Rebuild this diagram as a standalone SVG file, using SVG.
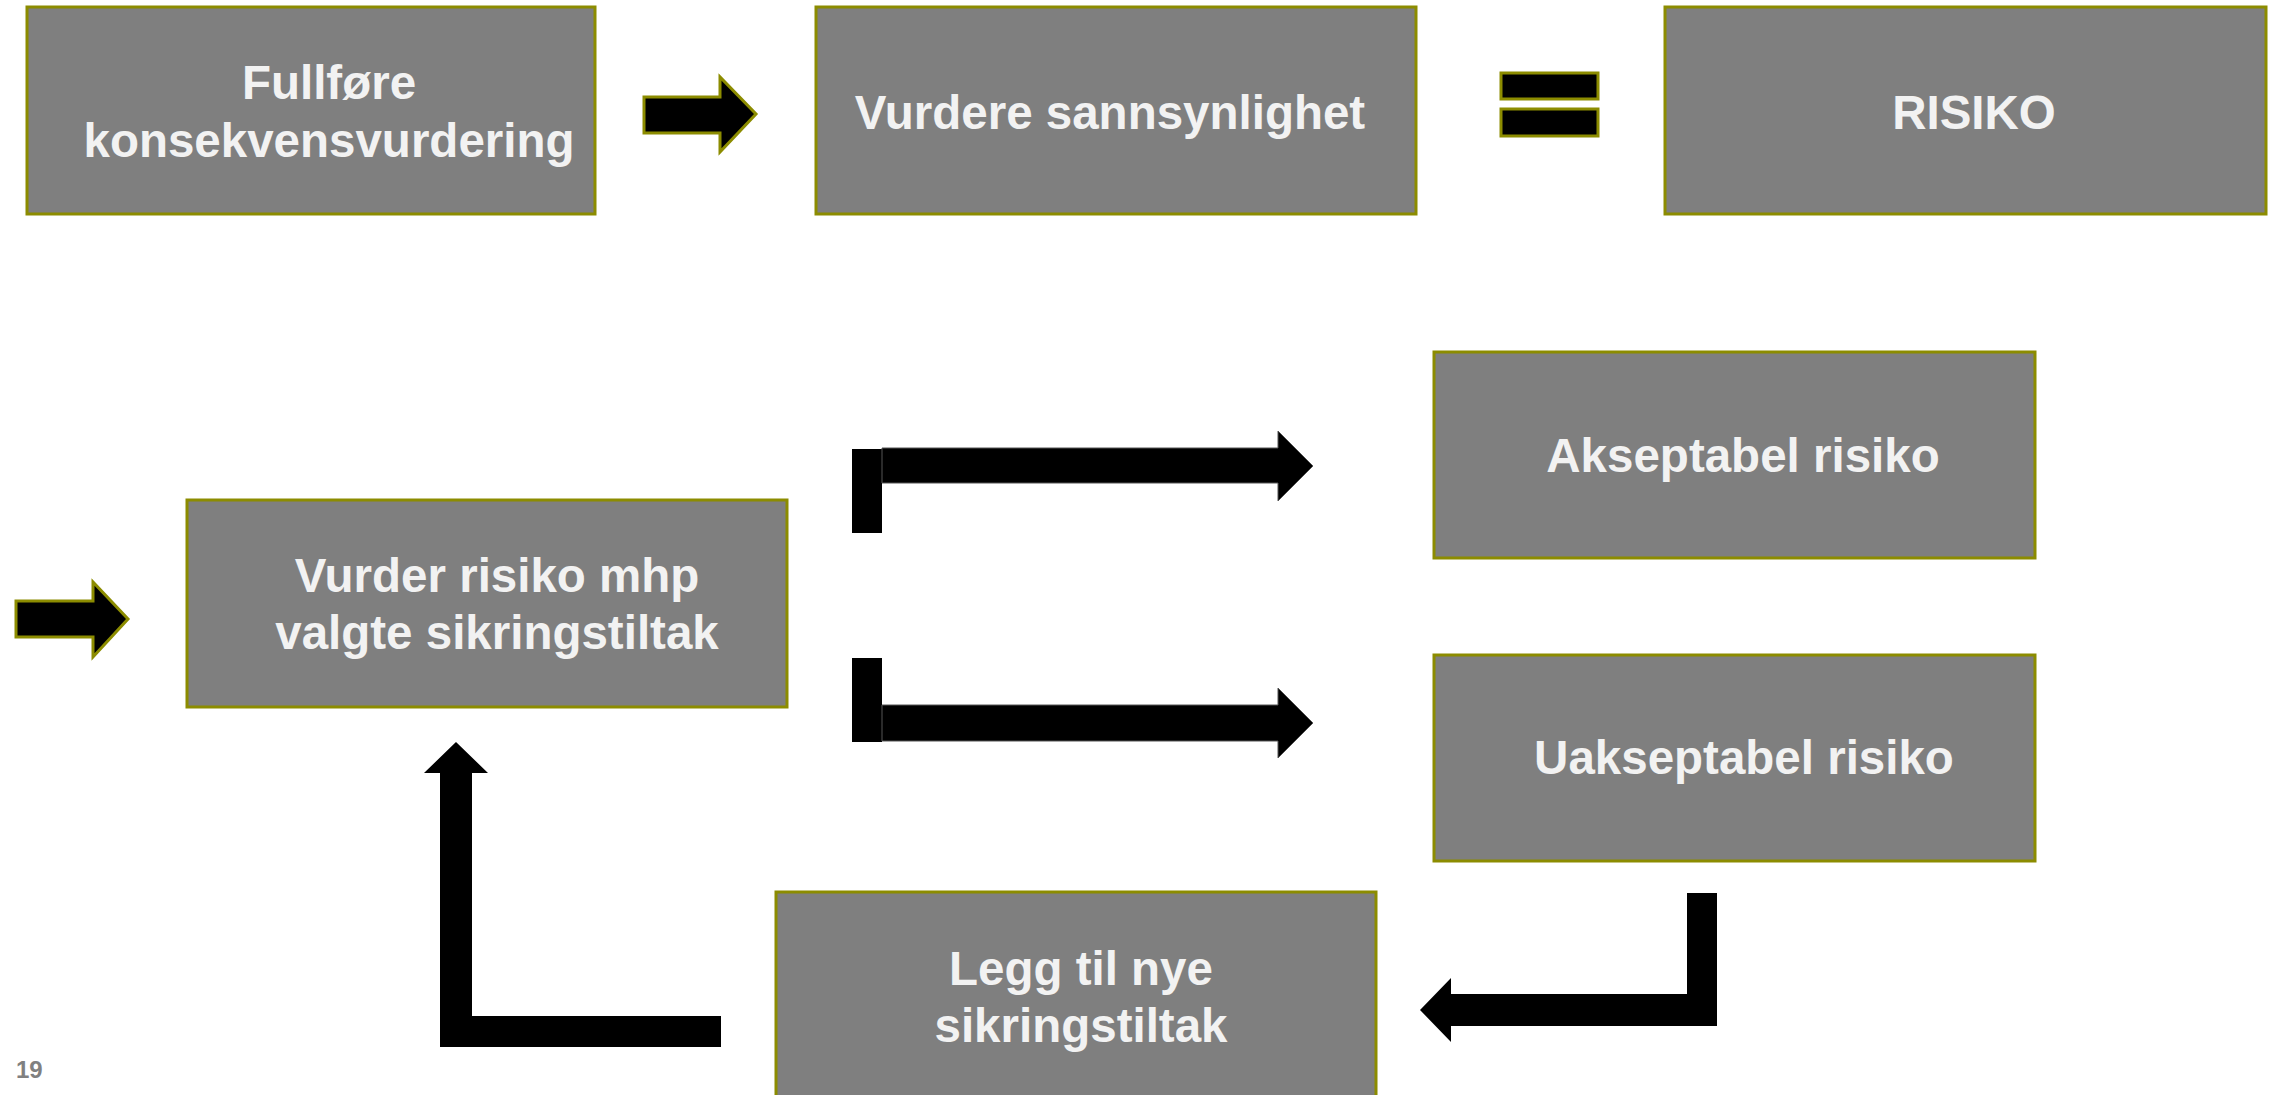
<svg xmlns="http://www.w3.org/2000/svg" width="2278" height="1095" viewBox="0 0 2278 1095">
  <style>
    .box { fill: #7f7f7f; stroke: #8c8c00; stroke-width: 3; }
    .lbl { fill: #f2f2f2; font-family: "Liberation Sans", Arial, sans-serif; font-weight: bold; font-size: 47.5px; text-anchor: middle; }
    .olive { fill: #000000; stroke: #8c8c00; stroke-width: 3; }
    .blk { fill: #000000; }
    .shaft { fill: #000000; stroke: #555555; stroke-width: 1; }
    .pg { fill: #808080; font-family: "Liberation Sans", Arial, sans-serif; font-weight: bold; font-size: 24px; }
  </style>
  <rect x="0" y="0" width="2278" height="1095" fill="#ffffff"/>

  <g id="node-fullfore">
    <rect class="box" x="27" y="7" width="568" height="207"/>
    <text class="lbl" x="329" y="99">Fullføre</text>
    <text class="lbl" x="329" y="157">konsekvensvurdering</text>
  </g>
  <g id="node-sannsynlighet">
    <rect class="box" x="816" y="7" width="600" height="207"/>
    <text class="lbl" x="1110" y="129">Vurdere sannsynlighet</text>
  </g>
  <g id="node-risiko">
    <rect class="box" x="1665" y="7" width="601" height="207"/>
    <text class="lbl" x="1974" y="129">RISIKO</text>
  </g>
  <g id="node-vurder">
    <rect class="box" x="187" y="500" width="600" height="207"/>
    <text class="lbl" x="497" y="592">Vurder risiko mhp</text>
    <text class="lbl" x="497" y="649">valgte sikringstiltak</text>
  </g>
  <g id="node-akseptabel">
    <rect class="box" x="1434" y="352" width="601" height="206"/>
    <text class="lbl" x="1743" y="472">Akseptabel risiko</text>
  </g>
  <g id="node-uakseptabel">
    <rect class="box" x="1434" y="655" width="601" height="206"/>
    <text class="lbl" x="1744" y="774">Uakseptabel risiko</text>
  </g>
  <g id="node-legg">
    <rect class="box" x="776" y="892" width="600" height="230"/>
    <text class="lbl" x="1081" y="985">Legg til nye</text>
    <text class="lbl" x="1081" y="1042">sikringstiltak</text>
  </g>

  <g id="connectors">
    <polygon class="olive" stroke-width="2" points="644,97 720,97 720,77 756,114 720,152 720,133 644,133"/>
    <polygon class="olive" stroke-width="2" points="16,601 93,601 93,582 128,619 93,657 93,637 16,637"/>
    <rect class="olive" x="1501" y="73" width="97" height="26"/>
    <rect class="olive" x="1501" y="109" width="97" height="27"/>

    <rect class="blk" x="852" y="449" width="30" height="84"/>
    <polygon class="shaft" points="882,448 1278,448 1278,431 1313,466 1278,501 1278,483 882,483"/>

    <rect class="blk" x="852" y="658" width="30" height="84"/>
    <polygon class="shaft" points="882,705 1278,705 1278,688 1313,723 1278,758 1278,741 882,741"/>

    <polygon class="blk" points="440,1047 721,1047 721,1016 472,1016 472,773 488,773 456,742 424,773 440,773"/>
    <polygon class="blk" points="1717,893 1717,1026 1451,1026 1451,1042 1420,1010 1451,978 1451,994 1687,994 1687,893"/>
  </g>

  <text class="pg" x="16" y="1078">19</text>
</svg>
